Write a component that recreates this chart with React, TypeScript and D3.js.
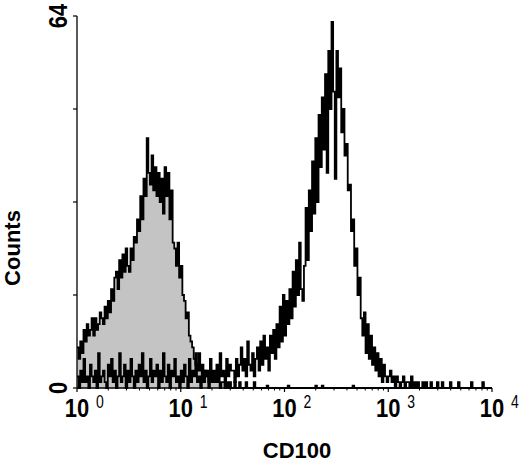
import * as d3 from "d3";

// channel counts, 64 channels per decade, 4 decades (10^0 .. 10^4)
const CHANNELS_PER_DECADE = 64;

const controlCounts: number[] = [
  7, 5, 8, 6, 10, 8, 11, 9, 10, 12, 9, 12, 10, 11, 13, 12,
  11, 14, 12, 15, 13, 17, 15, 19, 20, 17, 22, 19, 23, 20, 24, 21,
  20, 24, 22, 26, 25, 29, 27, 33, 29, 36, 33, 43, 37, 35, 40, 34,
  38, 33, 37, 32, 36, 30, 38, 33, 37, 29, 34, 25, 24, 21, 25, 19,
  21, 16, 15, 12, 13, 9, 8, 7, 5, 4, 3, 6, 3, 2, 3, 2,
  3, 1, 2, 1, 2, 1, 2, 1, 0, 1, 1, 0, 1, 0, 1, 0,
  0, 1, 0, 0, 1, 0, 0, 0, 1, 0, 0, 0, 0, 1, 0, 0,
  0, 0, 0, 0, 0, 0.4, 0, 0, 0, 0, 0, 0, 0, 0, 0, 0,
  0, 0, 0.4, 0, 0, 0, 0, 0, 0, 0, 0, 0, 0, 0, 0, 0,
  0, 0, 0, 0.4, 0, 0, 0, 0.4, 0, 0, 0, 0, 0, 0, 0, 0,
  0, 0, 0, 0, 0, 0, 0, 0, 0, 0, 0.4, 0, 0, 0, 0, 0,
  0, 0, 0, 0, 0, 0, 0, 0, 0, 0, 0, 0, 0, 0, 0, 0,
  0, 0, 0, 0, 0, 0, 0, 0, 0, 0, 0, 0, 0, 0, 0, 0,
  0, 0, 0, 0, 0, 0, 0, 0, 0, 0, 0, 0, 0, 0, 0, 0,
  0, 0, 0, 0, 0, 0, 0, 0, 0, 0, 0, 0, 0, 0, 0, 0,
  0, 0, 0, 0, 0, 0, 0, 0, 0, 0, 0, 0, 0, 0, 0, 0,
];

const cd100Counts: number[] = [
  2, 0, 3, 1, 5, 1, 2, 0, 4, 2, 1, 3, 0, 6, 1, 2,
  3, 1, 0, 4, 2, 5, 1, 3, 0, 2, 6, 1, 2, 4, 0, 3,
  1, 5, 2, 0, 3, 1, 4, 2, 6, 1, 3, 0, 2, 5, 1, 3,
  2, 4, 0, 3, 1, 6, 2, 1, 4, 0, 3, 2, 5, 1, 2, 0,
  3, 1, 4, 2, 0, 5, 1, 3, 2, 6, 1, 2, 0, 4, 1, 3,
  2, 0, 5, 1, 3, 2, 4, 1, 6, 2, 3, 1, 5, 2, 4, 3,
  3, 1, 5, 2, 4, 7, 3, 5, 2, 8, 4, 3, 6, 2, 5, 7,
  3, 8, 4, 9, 5, 7, 3, 9, 6, 10, 5, 11, 7, 14, 8, 16,
  9, 15, 11, 17, 12, 20, 14, 22, 16, 25, 17, 15, 21, 31, 22, 34,
  27, 39, 30, 43, 32, 47, 38, 50, 41, 54, 37, 58, 48, 63, 51, 36,
  58, 50, 55, 44, 48, 40, 42, 34, 35, 27, 29, 21, 24, 16, 19, 12,
  9, 13, 6, 11, 5, 9, 4, 7, 3, 6, 2, 5, 1, 4, 2, 1,
  2, 3, 1, 2, 0, 2, 1, 0, 1, 2, 0, 1, 1, 0, 2, 0,
  1, 0, 1, 0, 0, 1, 0, 1, 0, 0, 1, 0, 0, 0, 1, 0,
  0, 1, 0, 0, 0, 0, 1, 0, 0, 0, 0, 1, 0, 0, 0, 0,
  0, 0, 0, 1, 0, 0, 0, 0, 0, 0, 1, 0, 0, 0, 0, 0,
];

const yTicks = [0, 16, 32, 48, 64];
const yTickLabels = [
  { value: 0, text: "0" },
  { value: 64, text: "64" },
];
const decades = [0, 1, 2, 3, 4];
const xTitle = "CD100";
const yTitle = "Counts";

const FONT = "'Liberation Sans', Arial, Helvetica, sans-serif";

export default function App() {
  const x = d3.scaleLog().domain([1, 1e4]).range([77, 492]);
  const y = d3.scaleLinear().domain([0, 64]).range([388, 16]);

  const toPts = (arr: number[]): [number, number][] => {
    const pts: [number, number][] = arr.map((v, i) => [
      x(Math.pow(10, i / CHANNELS_PER_DECADE)),
      y(v),
    ]);
    pts.push([
      x(Math.pow(10, arr.length / CHANNELS_PER_DECADE)),
      y(arr[arr.length - 1]),
    ]);
    return pts;
  };

  const line = d3.line<[number, number]>().curve(d3.curveStepAfter);
  const area = d3
    .area<[number, number]>()
    .x((d) => d[0])
    .y0(y(0))
    .y1((d) => d[1])
    .curve(d3.curveStepAfter);

  const ctrl = toPts(controlCounts);
  const stained = toPts(cd100Counts);

  const minorTicks: number[] = [];
  for (let d = 0; d < 4; d++) {
    for (let k = 2; k <= 9; k++) minorTicks.push(k * Math.pow(10, d));
  }

  return (
    <svg
      width={520}
      height={462}
      style={{ position: "absolute", left: 0, top: 0, background: "#fff" }}
    >
      <rect x={0} y={0} width={520} height={462} fill="#fff" />
      {/* control histogram */}
      <path d={area(ctrl) || ""} fill="#c4c4c4" stroke="none" />
      <path d={line(ctrl) || ""} fill="none" stroke="#000" strokeWidth={1.8} />
      {/* CD100 stained histogram */}
      <path d={line(stained) || ""} fill="none" stroke="#000" strokeWidth={1.8} />

      {/* axes */}
      <line x1={77} x2={77} y1={y(64)} y2={y(0)} stroke="#000" strokeWidth={1.3} />
      <line x1={x(1)} x2={x(1e4)} y1={y(0)} y2={y(0)} stroke="#000" strokeWidth={1.3} />
      {yTicks.map((t) => (
        <line key={t} x1={73} x2={77} y1={y(t)} y2={y(t)} stroke="#000" strokeWidth={1.2} />
      ))}
      {decades.map((d) => (
        <line
          key={"M" + d}
          x1={x(Math.pow(10, d))}
          x2={x(Math.pow(10, d))}
          y1={y(0)}
          y2={y(0) + 4}
          stroke="#000"
          strokeWidth={1.2}
        />
      ))}
      {minorTicks.map((v) => (
        <line
          key={"m" + v}
          x1={x(v)}
          x2={x(v)}
          y1={y(0)}
          y2={y(0) + 2.5}
          stroke="#000"
          strokeWidth={1}
        />
      ))}

      {/* x tick labels */}
      {decades.map((d) => {
        const px = x(Math.pow(10, d));
        return (
          <g key={"l" + d} fontFamily={FONT}>
            <text
              transform={`translate(${px},417) scale(1,1.2)`}
              textAnchor="middle"
              fontSize={22}
              fontWeight="bold"
            >
              10
            </text>
            <text
              transform={`translate(${px + 19},408) scale(1,1.3)`}
              fontSize={14}
            >
              {String(d)}
            </text>
          </g>
        );
      })}

      {/* y tick labels */}
      {yTickLabels.map((l) => (
        <text
          key={"y" + l.value}
          transform={`translate(67,${y(l.value)}) rotate(-90) scale(1,1.2)`}
          textAnchor="middle"
          fontSize={22}
          fontWeight="bold"
          fontFamily={FONT}
        >
          {l.text}
        </text>
      ))}

      {/* titles */}
      <text
        x={297}
        y={458}
        textAnchor="middle"
        fontSize={22}
        fontWeight="bold"
        fontFamily={FONT}
      >
        {xTitle}
      </text>
      <text
        transform="translate(20,248) rotate(-90)"
        textAnchor="middle"
        fontSize={22}
        fontWeight="bold"
        fontFamily={FONT}
      >
        {yTitle}
      </text>
    </svg>
  );
}
